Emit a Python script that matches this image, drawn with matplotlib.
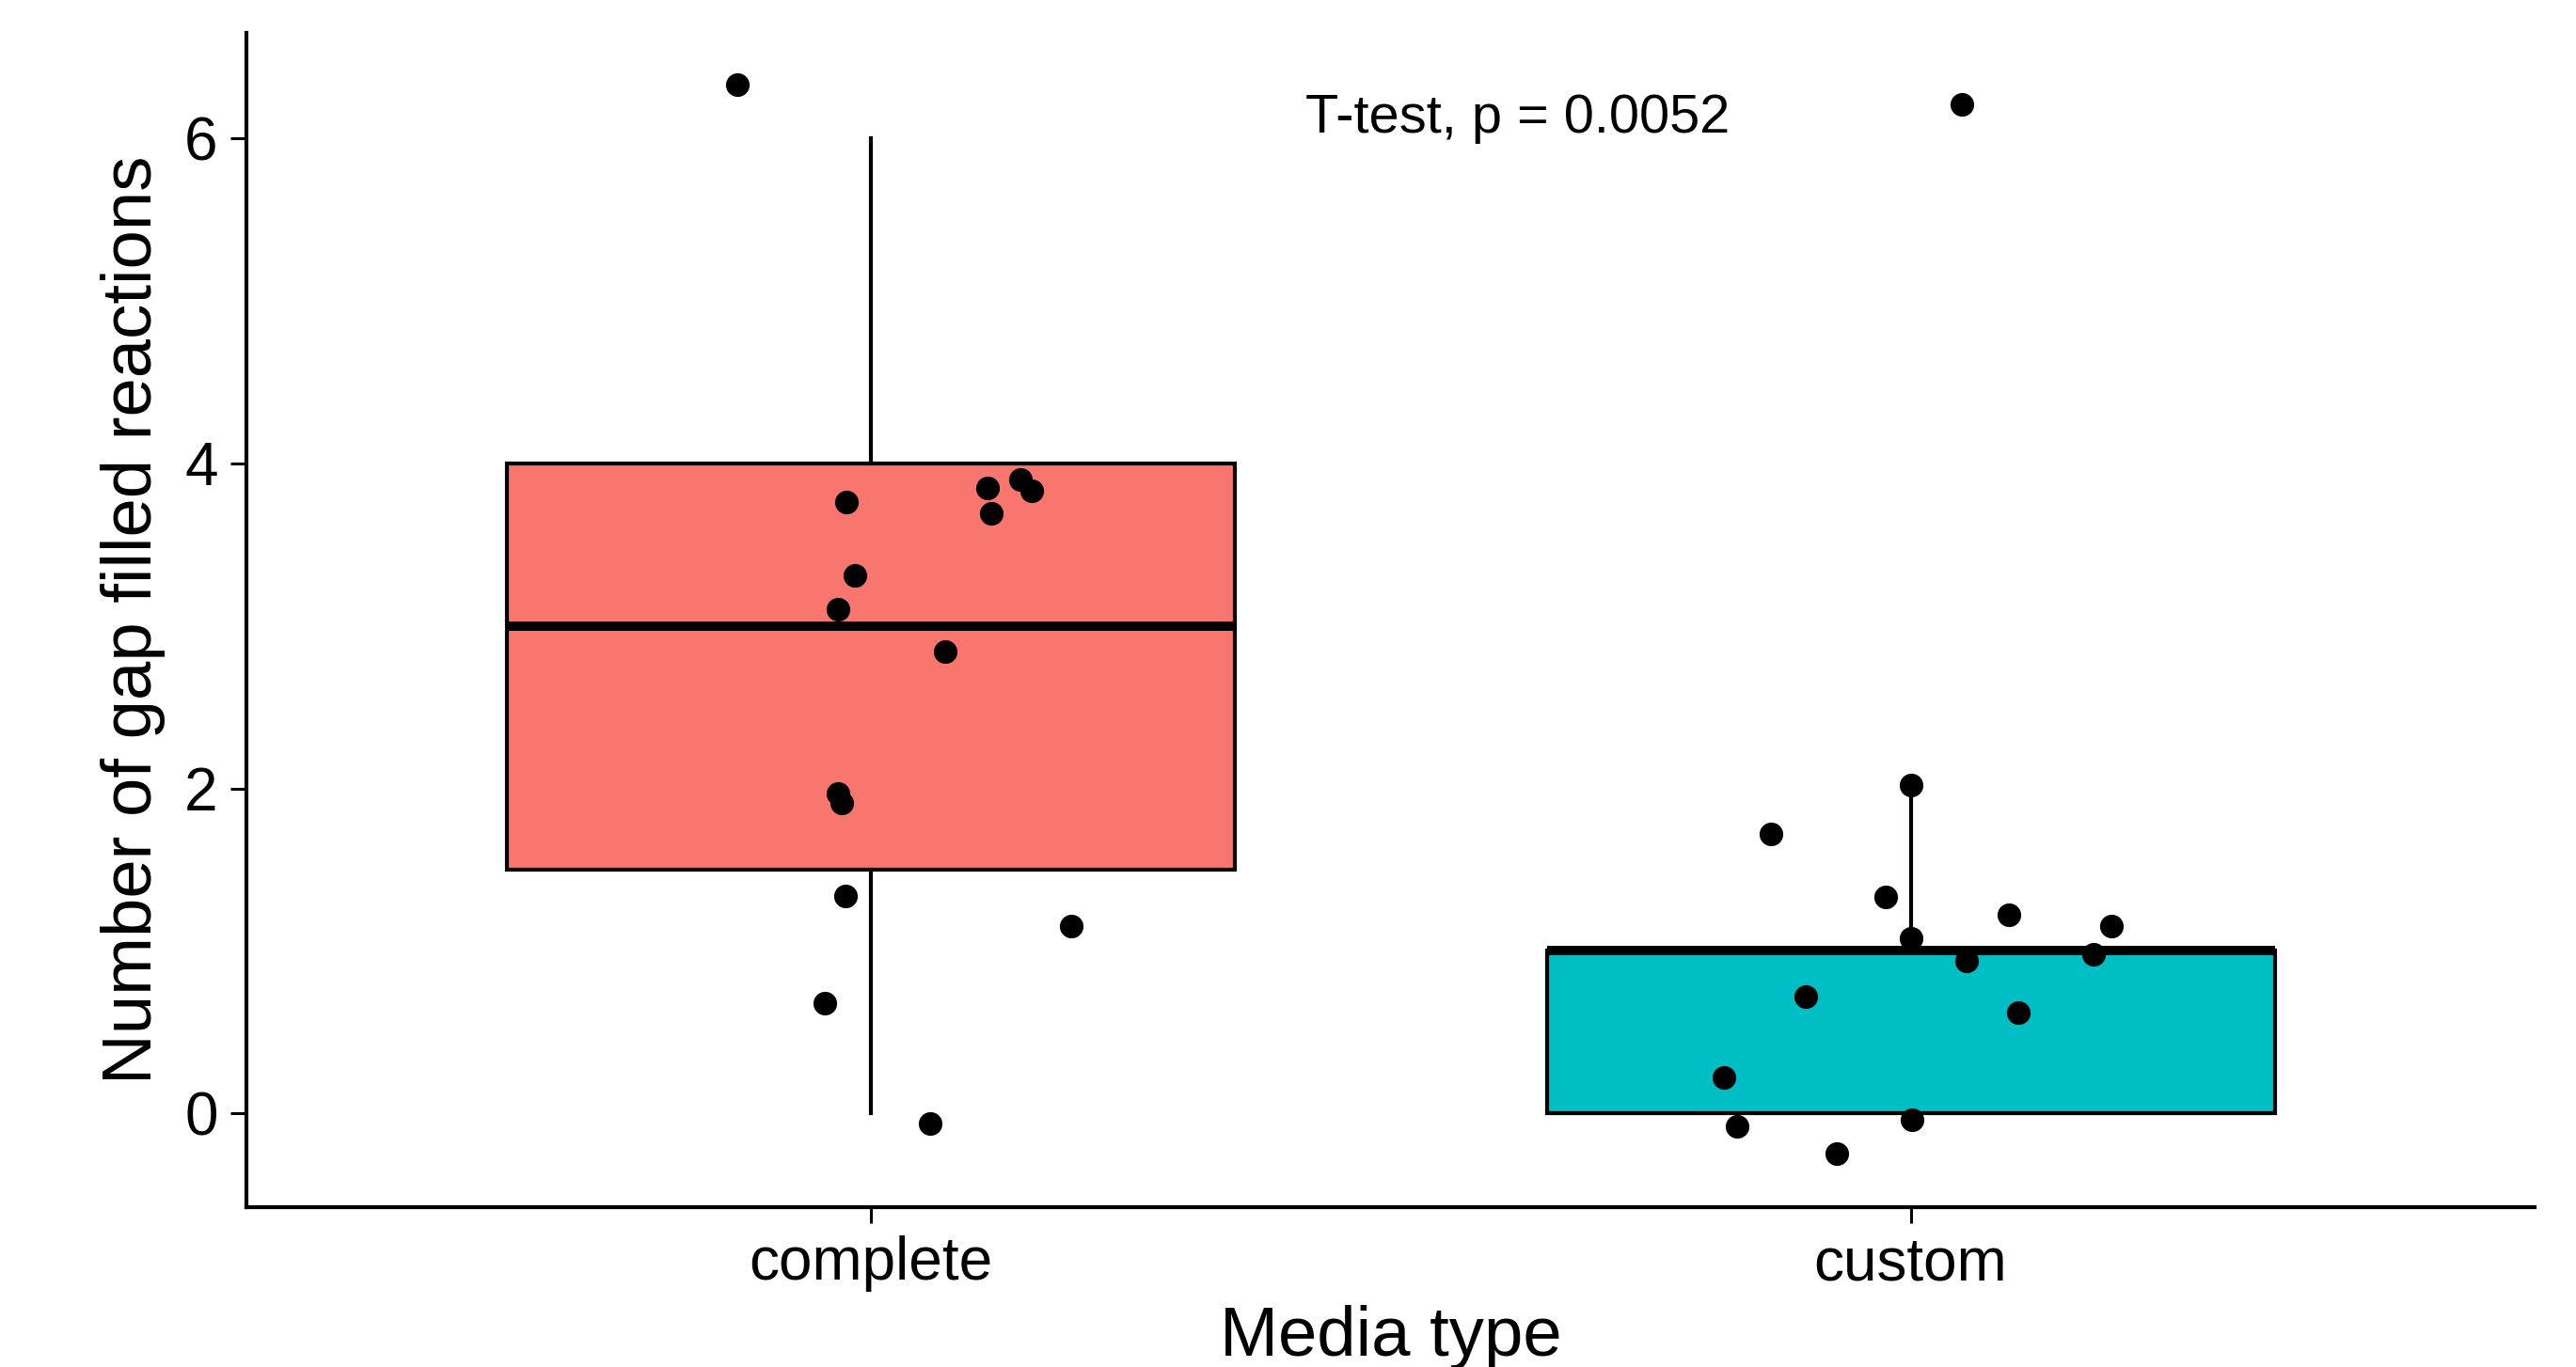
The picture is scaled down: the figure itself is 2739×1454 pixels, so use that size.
import matplotlib
matplotlib.use("Agg")
import matplotlib.pyplot as plt

plt.rcParams['font.family'] = ['Liberation Sans', 'DejaVu Sans']

# media groups
media = ['complete', 'custom']
box_colors = ['#F8766D', '#00BFC4']

# box summaries (lower whisker, Q1, median, Q3, upper whisker)
whis_lo = [0, 0]
q1 = [1.5, 0]
med = [3, 1]
q3 = [4, 1]
whis_hi = [6, 2]

# jittered points, x as placed on the axis, y as plotted
complete_x = [0.872, 0.977, 1.112, 1.144, 1.155, 1.116, 0.985, 0.969, 1.072,
              0.969, 0.972, 0.976, 1.193, 0.956, 1.057]
complete_y = [6.33, 3.76, 3.85, 3.90, 3.83, 3.69, 3.31, 3.10, 2.84,
              1.97, 1.91, 1.34, 1.15, 0.68, -0.06]
custom_x = [2.049, 2.000, 1.866, 1.976, 2.094, 2.193, 2.000, 2.176, 2.054,
            1.899, 2.103, 1.820, 1.833, 2.001, 1.929]
custom_y = [6.21, 2.02, 1.72, 1.33, 1.22, 1.15, 1.08, 0.98, 0.94,
            0.72, 0.62, 0.22, -0.08, -0.04, -0.25]

p_label = 'T-test, p = 0.0052'

fig = plt.figure(figsize=(13.695, 7.27), dpi=200)
ax = fig.add_axes([0.0957, 0.117, 0.8883, 0.859])

stats = []
for i in range(len(media)):
    stats.append({'whislo': whis_lo[i], 'q1': q1[i], 'med': med[i],
                  'q3': q3[i], 'whishi': whis_hi[i], 'label': media[i]})

bp = ax.bxp(stats, positions=[1, 2], widths=0.7, patch_artist=True,
            showcaps=False, showfliers=False,
            boxprops=dict(linewidth=1.5, edgecolor='black'),
            whiskerprops=dict(linewidth=1.5, color='black'),
            medianprops=dict(linewidth=3.6, color='black', solid_capstyle='butt'))
for patch, c in zip(bp['boxes'], box_colors):
    patch.set_facecolor(c)

ax.scatter(complete_x, complete_y, s=82, color='black', zorder=5, linewidths=0)
ax.scatter(custom_x, custom_y, s=82, color='black', zorder=5, linewidths=0)

ax.text(1.418, 6.12, p_label, ha='left', va='center', fontsize=20.8)

ax.set_xlim(0.4, 2.6)
ax.set_ylim(-0.577, 6.65)
ax.set_xticks([1, 2])
ax.set_xticklabels(media)
ax.set_yticks([0, 2, 4, 6])

for s in ['top', 'right']:
    ax.spines[s].set_visible(False)
for s in ['left', 'bottom']:
    ax.spines[s].set_linewidth(1.5)

ax.tick_params(axis='both', length=6, width=1.1, pad=5, labelsize=23)
ax.set_xlabel('Media type', fontsize=26.8, labelpad=5)
ax.set_ylabel('Number of gap filled reactions', fontsize=26.8, labelpad=7)

fig.savefig('out.png', dpi=200)
